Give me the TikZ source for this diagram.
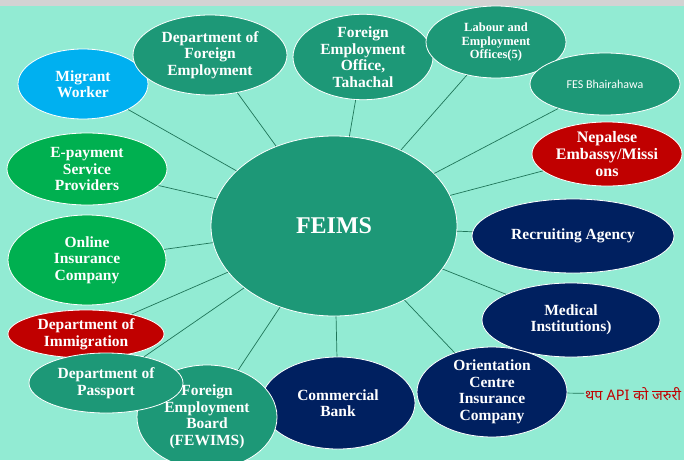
\documentclass[tikz,border=0pt]{standalone}
\usepackage{fontspec}
\setmainfont{Liberation Serif}
\newfontfamily\devfont[Script=Devanagari]{Noto Sans}
\newfontfamily\calfont{Carlito}
\usetikzlibrary{shapes.geometric, positioning}

\definecolor{mint}{HTML}{92EBD3}
\definecolor{bandgray}{HTML}{D3D3D3}
\definecolor{feteal}{HTML}{1D9877}
\definecolor{mwblue}{HTML}{00B0F0}
\definecolor{paygreen}{HTML}{00B050}
\definecolor{embred}{HTML}{C00000}
\definecolor{navy}{HTML}{002060}
\definecolor{linkcol}{HTML}{1F7559}

\tikzstyle{bubble} = [ellipse,draw=white,line width=0.8pt,inner sep=0pt,text=white,align=center,font=\bfseries\fontsize{15.5}{16.5}\selectfont]
\tikzstyle{link} = [draw=linkcol,line width=0.7pt]

\begin{document}
\begin{tikzpicture}[x=1pt,y=-1pt]
        \fill[mint] (0,0) rectangle (684,460);
        \fill[bandgray] (0,0) rectangle (684,6);
        \useasboundingbox (0,0) rectangle (684,460);

        \node (FEIMS) [bubble, fill=feteal, minimum width=246pt, minimum height=180pt, font=\bfseries\fontsize{24}{26}\selectfont] at (334,226) {FEIMS};
        \node (MW) [bubble, fill=mwblue, minimum width=130pt, minimum height=70pt] at (83,84) {Migrant\\Worker};
        \node (DOFE) [bubble, fill=feteal, minimum width=154pt, minimum height=80pt] at (210,55) {Department of\\Foreign\\Employment};
        \node (FEO) [bubble, fill=feteal, minimum width=140pt, minimum height=84pt] at (363,57) {Foreign\\Employment\\Office,\\Tahachal};
        \node (LEO) [bubble, fill=feteal, minimum width=140pt, minimum height=72pt, font=\bfseries\fontsize{12.5}{13.3}\selectfont] at (496,42) {Labour and\\Employment\\Offices(5)};
        \node (FES) [bubble, fill=feteal, minimum width=150pt, minimum height=62pt, font=\calfont\fontsize{12}{14}\selectfont] at (605,84) {FES Bhairahawa};
        \node (NEM) [bubble, fill=embred, minimum width=150pt, minimum height=62pt, font=\bfseries\fontsize{16}{17}\selectfont] at (607,154) {Nepalese\\Embassy/Missi\\ons};
        \node (RA) [bubble, fill=navy, minimum width=202pt, minimum height=74pt] at (573,236) {Recruiting Agency};
        \node (MI) [bubble, fill=navy, minimum width=178pt, minimum height=74pt] at (571,320) {Medical\\Institutions)};
        \node (EPAY) [bubble, fill=paygreen, minimum width=160pt, minimum height=72pt] at (87,169) {E-payment\\Service\\Providers};
        \node (OIC) [bubble, fill=paygreen, minimum width=158pt, minimum height=90pt] at (87,260) {Online\\Insurance\\Company};
        \node (DOI) [bubble, fill=embred, minimum width=156pt, minimum height=48pt] at (86,334) {Department of\\Immigration};
        \node (CB) [bubble, fill=navy, minimum width=154pt, minimum height=92pt] at (338,403) {Commercial\\Bank};
        \node (FEB) [bubble, fill=feteal, minimum width=140pt, minimum height=104pt] at (207,417) {Foreign\\Employment\\Board\\(FEWIMS)};
        \node (DOP) [bubble, fill=feteal, minimum width=154pt, minimum height=60pt] at (106,383) {Department of\\Passport};
        \node (OCIC) [bubble, fill=navy, minimum width=150pt, minimum height=86pt] at (492,392) {Orientation\\Centre\\Insurance\\Company};
        \node (API) [anchor=west, inner sep=1pt, text=embred, font=\devfont\fontsize{14.5}{16}\selectfont] at (584,394) {थप\ \textbf{API} को\ जरुरी};

        \path[link] (FEIMS) edge (MW);
        \path[link] (FEIMS) edge (DOFE);
        \path[link] (FEIMS) edge (FEO);
        \path[link] (FEIMS) edge (LEO);
        \path[link] (FEIMS) edge (FES);
        \path[link] (FEIMS) edge (NEM);
        \path[link] (FEIMS) edge (RA);
        \path[link] (FEIMS) edge (MI);
        \path[link] (FEIMS) edge (OCIC);
        \path[link] (FEIMS) edge (CB);
        \path[link] (FEIMS) edge (FEB);
        \path[link] (FEIMS) edge (DOP);
        \path[link] (FEIMS) edge (DOI);
        \path[link] (FEIMS) edge (OIC);
        \path[link] (FEIMS) edge (EPAY);
        \path[link] (OCIC) edge (API);

    \end{tikzpicture}
\end{document}
